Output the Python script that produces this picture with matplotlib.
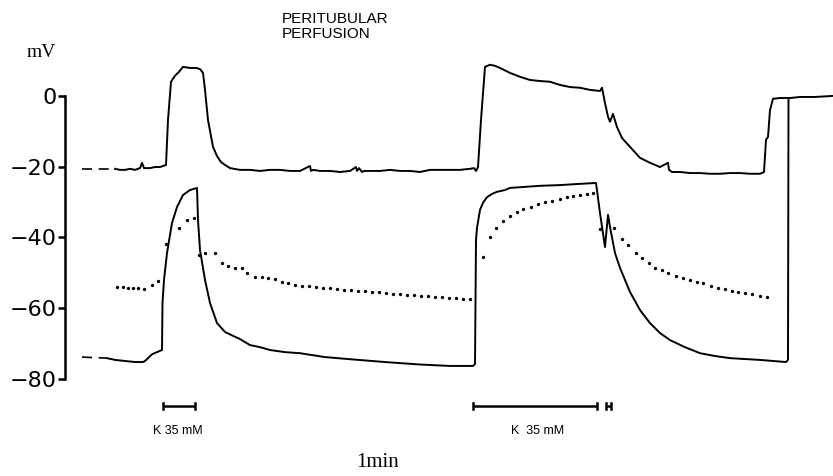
import matplotlib
matplotlib.use("Agg")
from matplotlib import pyplot as plt

# time in s (arbitrary origin at the y axis), potential in mV
upper_dash_t = [17, 50]
upper_dash_v = [-20.6, -20.6]
upper_t = [50, 55, 60, 65, 70, 75, 77, 79, 85, 90,
           95, 98, 101, 103, 106, 110, 114, 118, 125, 131,
           135, 138, 140, 143, 148, 152, 156, 160, 165, 175,
           185, 195, 205, 215, 225, 235, 245, 246, 248, 255,
           265, 275, 285, 291, 292, 294, 297, 299, 305, 315,
           325, 335, 345, 355, 365, 375, 385, 395, 405, 409,
           411, 413, 416, 420, 425, 430, 435, 445, 455, 465,
           475, 485, 495, 505, 515, 525, 535, 537, 540, 543,
           545, 548, 552, 557, 565, 575, 585, 595, 603, 604,
           607, 615, 625, 635, 645, 655, 665, 675, 685, 695,
           699, 701, 703, 705, 708, 715, 725, 735, 750, 768]
upper_v = [-20.6, -20.9, -20.9, -20.6, -20.9, -20.4, -18.9, -20.4, -20.4, -20.1,
           -20.1, -19.8, -19.5, -6.8, 4.0, 5.7, 6.8, 8.2, 7.9, 7.9,
           7.6, 6.5, 1.7, -6.8, -14.4, -17.0, -18.7, -19.5, -20.4, -20.9,
           -20.9, -21.2, -20.9, -20.9, -21.2, -21.2, -19.8, -21.2, -20.9, -21.2,
           -21.2, -21.5, -21.2, -20.1, -21.2, -20.4, -21.5, -21.2, -21.2, -21.2,
           -20.9, -21.2, -21.2, -21.5, -20.9, -20.9, -20.9, -20.9, -20.6, -20.4,
           -21.2, -20.1, -6.8, 8.2, 8.8, 8.5, 7.9, 6.5, 5.4, 4.5,
           4.2, 4.0, 3.1, 2.5, 2.3, 1.7, 1.4, 2.3, -2.0, -5.9,
           -7.3, -5.1, -8.8, -11.9, -14.4, -17.5, -18.9, -20.1, -18.9, -20.9,
           -21.5, -21.5, -21.8, -21.8, -22.0, -22.0, -21.8, -21.8, -22.0, -22.0,
           -21.5, -12.4, -11.6, -4.0, -0.8, -0.6, -0.6, -0.3, -0.3, 0.0]

lower_dash_t = [17, 42]
lower_dash_v = [-73.8, -74.1]
lower_t = [42, 50, 60, 70, 78, 80, 83, 87, 92, 97,
           97.5, 99, 102, 107, 112, 118, 125, 132, 133, 135,
           140, 145, 152, 160, 168, 175, 185, 195, 205, 220,
           235, 260, 285, 320, 355, 385, 408, 410, 411, 412,
           413, 415, 418, 422, 427, 432, 440, 445, 460, 475,
           495, 512, 531, 535, 540, 543, 545, 550, 555, 560,
           565, 575, 585, 595, 605, 620, 635, 650, 665, 695,
           721, 723, 723.5]
lower_v = [-74.1, -74.6, -74.9, -75.2, -75.2, -74.9, -74.1, -73.0, -72.4, -71.8,
           -58.5, -52.0, -44.4, -35.9, -31.4, -28.0, -26.6, -26.0, -35.1, -43.5,
           -52.0, -58.5, -64.2, -66.7, -67.8, -68.7, -70.4, -71.0, -71.8, -72.4,
           -72.7, -73.8, -74.4, -75.2, -75.9, -76.3, -76.3, -75.8, -40.7, -37.3,
           -35.6, -32.2, -30.2, -28.6, -27.7, -27.1, -26.6, -26.0, -25.7, -25.4,
           -25.2, -24.9, -24.6, -33.1, -42.7, -33.6, -37.0, -44.4, -48.6, -52.0,
           -55.4, -60.5, -64.2, -67.0, -69.0, -71.0, -72.7, -73.5, -74.1, -74.6,
           -75.2, -74.6, -0.6]

dots_t = [52, 58, 63, 68, 73, 79, 87, 93, 101, 114,
          122, 129, 134, 140, 150, 157, 163, 170, 177, 182,
          190, 197, 203, 210, 217, 223, 230, 237, 244, 251,
          258, 265, 272, 279, 286, 293, 300, 307, 314, 321,
          328, 335, 342, 349, 356, 363, 370, 377, 384, 391,
          398, 405,
          418, 425, 431, 438, 445, 452, 458, 466, 473, 480,
          487, 495, 502, 508, 515, 522, 528,
          535, 549, 557, 563, 571, 577, 584, 590, 597, 603,
          611, 618, 625, 632, 638, 646, 653, 660, 667, 673,
          680, 687, 695, 702]
dots_v = [-54.0, -54.0, -54.3, -54.3, -54.3, -54.6, -53.4, -52.3, -41.8, -37.3,
          -35.1, -34.5, -45.0, -44.4, -44.4, -47.2, -48.1, -48.6, -48.6, -50.0,
          -51.2, -51.2, -51.5, -51.7, -52.6, -52.9, -53.4, -53.7, -53.7, -54.0,
          -54.3, -54.3, -54.6, -54.8, -54.8, -55.1, -55.1, -55.4, -55.4, -55.7,
          -56.0, -56.0, -56.3, -56.3, -56.6, -56.6, -56.9, -56.9, -57.1, -57.1,
          -57.4, -57.4,
          -45.5, -39.9, -37.3, -35.3, -33.9, -32.8, -31.9, -31.4, -30.5, -30.0,
          -29.7, -29.1, -28.6, -28.3, -28.0, -27.7, -27.4,
          -37.6, -37.3, -40.5, -42.1, -44.4, -45.8, -47.2, -48.6, -49.2, -50.0,
          -50.9, -51.4, -52.0, -52.6, -52.9, -53.7, -54.3, -54.6, -55.1, -55.4,
          -55.7, -56.0, -56.6, -56.9]

# K 35 mM application periods (start, end)
k_periods = [(98, 130), (408, 532), (541, 546)]
k_labels = ["K 35 mM", "K  35 mM"]
k_label_t = [113, 473]
yticks = [0, -20, -40, -60, -80]

fig = plt.figure(figsize=(8.33, 4.76), dpi=100)
ax = fig.add_axes([0, 0, 1, 1])
ax.set_xlim(-65, 768)
ax.set_ylim(-107.4, 27.1)

ax.plot(upper_dash_t, upper_dash_v, color="black", lw=1.2, dashes=(6, 4))
ax.plot(upper_t, upper_v, color="black", lw=1.4)
ax.plot(lower_dash_t, lower_dash_v, color="black", lw=1.2, dashes=(6, 4))
ax.plot(lower_t, lower_v, color="black", lw=1.4)
ax.plot(dots_t, dots_v, "o", color="black", ms=2.4, mew=0)

# bars
bar_v = -87.6
for t0, t1 in k_periods:
    ax.plot([t0, t1], [bar_v, bar_v], color="black", lw=1.8, solid_capstyle="butt")
    ax.plot([t0, t0], [bar_v - 0.9, bar_v + 0.9], color="black", lw=1.8)
    ax.plot([t1, t1], [bar_v - 0.9, bar_v + 0.9], color="black", lw=1.8)
for lab, t in zip(k_labels, k_label_t):
    ax.text(t, -94.6, lab, ha="center", va="center", fontsize=9,
            family="Liberation Sans")

ax.text(313, -103.5, "1min", ha="center", va="center", fontsize=15,
        family="Liberation Serif")
ax.text(-24, 12.4, "mV", ha="center", va="center", fontsize=14,
        family="Liberation Serif")
ax.text(217, 23.6, "PERITUBULAR\nPERFUSION", ha="left", va="top",
        fontsize=11, family="Liberation Sans", linespacing=1.05)

for s in ["top", "right", "bottom"]:
    ax.spines[s].set_visible(False)
ax.spines["left"].set_position(("data", 0))
ax.spines["left"].set_bounds(-80, 0)
ax.spines["left"].set_linewidth(1.8)
ax.set_xticks([])
ax.set_yticks(yticks)
ax.set_yticklabels([str(v).replace("-", "\u2212") for v in yticks])
ax.tick_params(axis="y", direction="out", length=5, width=1.8, pad=1,
               labelsize=16)

fig.savefig("out.png", dpi=100)
